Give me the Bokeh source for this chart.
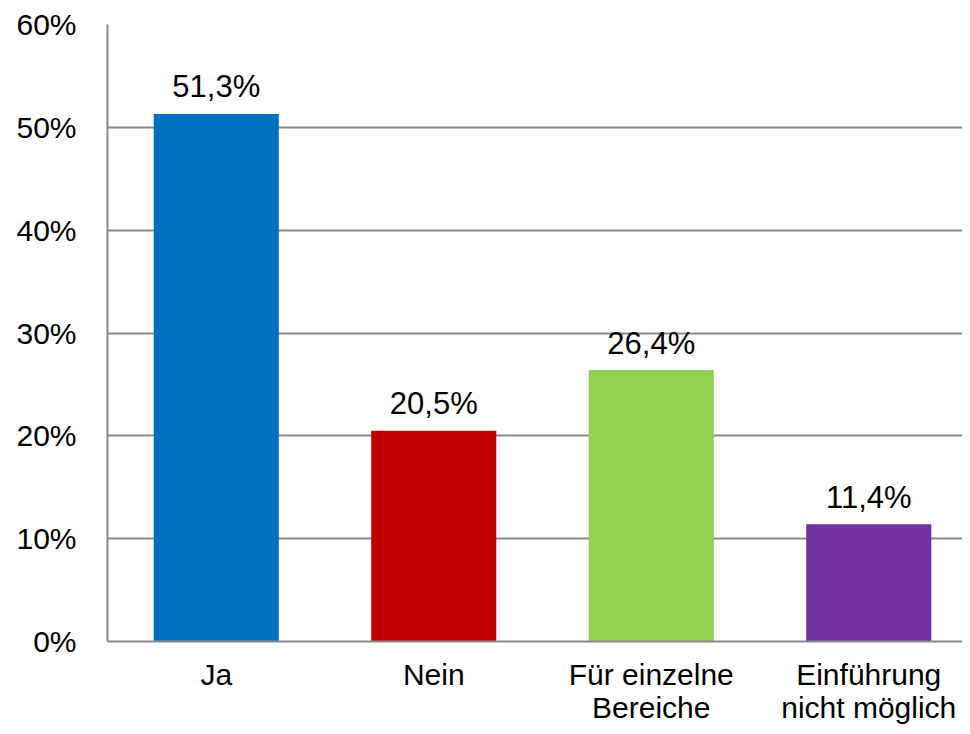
from bokeh.plotting import figure
from bokeh.models import ColumnDataSource, FixedTicker, Range1d
from bokeh.core.properties import value
from bokeh.embed import file_html
from bokeh.resources import INLINE

categories = ["Ja", "Nein", "Für einzelne\nBereiche", "Einführung\nnicht möglich"]
values = [51.3, 20.5, 26.4, 11.4]
colors = ["#0070C0", "#C00000", "#92D050", "#7030A0"]
y_ticks = [0, 10, 20, 30, 40, 50, 60]

FONT = "Liberation Sans"

xs = list(range(len(categories)))
labels = [("%.1f" % v).replace(".", ",") + "%" for v in values]
src = ColumnDataSource(dict(x=xs, top=values, color=colors, label=labels))

p = figure(width=962, height=726, output_backend="svg", toolbar_location=None,
           x_range=Range1d(-0.5, 3.431), y_range=Range1d(0, 60),
           min_border_left=107, min_border_right=0, min_border_top=24, min_border_bottom=85)
p.outline_line_color = None
p.background_fill_color = "white"
p.border_fill_color = "white"

p.vbar(x="x", top="top", width=0.575, bottom=0, color="color", line_color=None, source=src)
p.text(x="x", y="top", text="label", source=src, text_align="center", text_baseline="alphabetic",
       y_offset=-27, text_font=value(FONT), text_font_size="31px", text_color="black")

# y axis
p.yaxis.ticker = FixedTicker(ticks=y_ticks)
p.yaxis.major_label_overrides = {t: "%d%%" % t for t in y_ticks}
p.yaxis.major_label_text_font = FONT
p.yaxis.major_label_text_font_size = "30px"
p.yaxis.major_label_text_color = "black"
p.yaxis.major_label_standoff = 25
p.yaxis.major_tick_line_color = None
p.yaxis.minor_tick_line_color = None
p.yaxis.axis_line_color = "#8a8a8a"
p.yaxis.axis_line_width = 2

# x axis
p.xaxis.ticker = FixedTicker(ticks=xs)
p.xaxis.major_label_overrides = {i: c for i, c in enumerate(categories)}
p.xaxis.major_label_text_font = FONT
p.xaxis.major_label_text_font_size = "30px"
p.xaxis.major_label_text_line_height = 1.0
p.xaxis.major_label_text_color = "black"
p.xaxis.major_label_standoff = 10
p.xaxis.major_tick_line_color = None
p.xaxis.minor_tick_line_color = None
p.xaxis.axis_line_color = "#8a8a8a"
p.xaxis.axis_line_width = 2

p.xgrid.grid_line_color = None
p.ygrid.grid_line_color = "#8a8a8a"
p.ygrid.grid_line_width = 2

open("out.html", "w").write(file_html(p, INLINE))
